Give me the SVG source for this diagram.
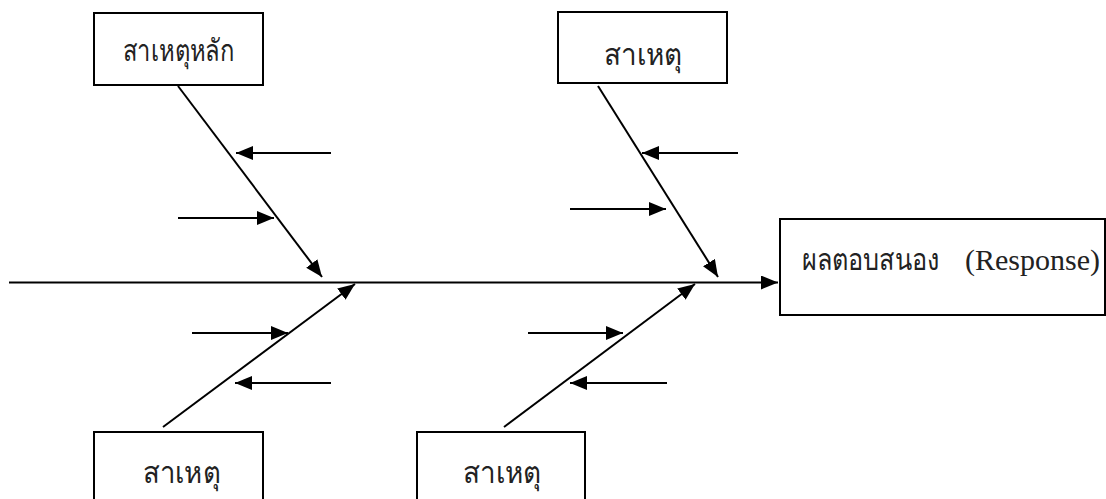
<svg xmlns="http://www.w3.org/2000/svg" width="1106" height="499" viewBox="0 0 1106 499">
<style>
.box{fill:#fff;stroke:#000;stroke-width:2}
.ln{stroke:#000;stroke-width:2;fill:none}
.lbl{font-family:"Liberation Serif","Noto Sans CJK SC",serif;font-size:30px;fill:#222}
.eng{font-family:"Liberation Serif",serif;font-size:30px;fill:#222}
</style>
<defs>
<marker id="ah" markerUnits="userSpaceOnUse" markerWidth="18" markerHeight="15" refX="17" refY="7" orient="auto">
<path d="M0,0 L17,7 L0,14 z" fill="#000"/>
</marker>
</defs>
<rect width="1106" height="499" fill="#fff"/>
<g id="connectors">
<line class="ln" x1="9" y1="282.5" x2="778" y2="282.5" marker-end="url(#ah)"/>
<line class="ln" x1="178" y1="86" x2="322" y2="277" marker-end="url(#ah)"/>
<line class="ln" x1="331" y1="153" x2="236" y2="153" marker-end="url(#ah)"/>
<line class="ln" x1="178" y1="218" x2="274" y2="218" marker-end="url(#ah)"/>
<line class="ln" x1="598" y1="86" x2="718" y2="277" marker-end="url(#ah)"/>
<line class="ln" x1="738" y1="153" x2="642" y2="153" marker-end="url(#ah)"/>
<line class="ln" x1="570" y1="209" x2="666" y2="209" marker-end="url(#ah)"/>
<line class="ln" x1="163" y1="427" x2="355" y2="284" marker-end="url(#ah)"/>
<line class="ln" x1="192" y1="333" x2="288" y2="333" marker-end="url(#ah)"/>
<line class="ln" x1="331" y1="383" x2="235" y2="383" marker-end="url(#ah)"/>
<line class="ln" x1="504" y1="427" x2="695" y2="284" marker-end="url(#ah)"/>
<line class="ln" x1="528" y1="333" x2="623" y2="333" marker-end="url(#ah)"/>
<line class="ln" x1="667" y1="383" x2="570" y2="383" marker-end="url(#ah)"/>
</g>
<g id="cause-main">
<rect class="box" x="94" y="13" width="169" height="72"/>
<text class="lbl" x="123" y="61" textLength="111" lengthAdjust="spacingAndGlyphs">สาเหตุหลัก</text>
</g>
<g id="cause-top-right">
<rect class="box" x="558" y="12" width="169" height="71"/>
<text class="lbl" x="604" y="65" textLength="78" lengthAdjust="spacingAndGlyphs">สาเหตุ</text>
</g>
<g id="cause-bottom-left">
<rect class="box" x="94" y="432" width="169" height="80"/>
<text class="lbl" x="143" y="483" textLength="77" lengthAdjust="spacingAndGlyphs">สาเหตุ</text>
</g>
<g id="cause-bottom-mid">
<rect class="box" x="417" y="432" width="168" height="80"/>
<text class="lbl" x="463" y="483" textLength="78" lengthAdjust="spacingAndGlyphs">สาเหตุ</text>
</g>
<g id="response">
<rect class="box" x="780" y="219" width="325" height="96"/>
<text class="lbl" x="802" y="270" textLength="138" lengthAdjust="spacingAndGlyphs">ผลตอบสนอง</text>
<text class="eng" x="965" y="270" textLength="135" lengthAdjust="spacingAndGlyphs">(Response)</text>
</g>
</svg>
